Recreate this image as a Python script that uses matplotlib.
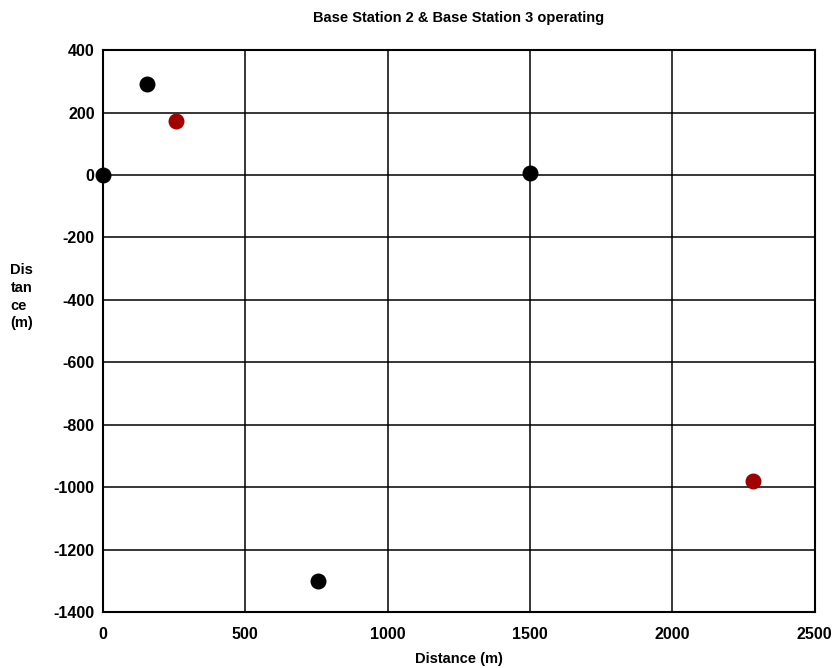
import matplotlib
matplotlib.use('Agg')
import matplotlib.pyplot as plt

plt.rcParams['font.family'] = ['Liberation Sans', 'DejaVu Sans']
plt.rcParams['axes.unicode_minus'] = False

# Station positions (m)
black_x = [0, 155, 1500, 755]
black_y = [0, 290, 5, -1300]
red_x = [258, 2285]
red_y = [173, -980]

xticks = [0, 500, 1000, 1500, 2000, 2500]
yticks = [400, 200, 0, -200, -400, -600, -800, -1000, -1200, -1400]

fig = plt.figure(figsize=(8.39, 6.68), dpi=100)
ax = fig.add_axes([0.1228, 0.0838, 0.848, 0.8412])

ax.scatter(black_x, black_y, s=110, color='black', zorder=3, clip_on=False)
ax.scatter(red_x, red_y, s=110, color='#a00000', zorder=3, clip_on=False)

ax.set_xlim(0, 2500)
ax.set_ylim(-1400, 400)
ax.set_xticks(xticks)
ax.set_yticks(yticks)
ax.grid(True, color='black', linewidth=1.1)
ax.set_axisbelow(True)
for sp in ax.spines.values():
    sp.set_linewidth(1.5)
ax.tick_params(length=0, labelsize=11.5)
ax.tick_params(axis='x', pad=11)
ax.tick_params(axis='y', pad=6)
for lbl in ax.get_xticklabels() + ax.get_yticklabels():
    lbl.set_fontweight('bold')

ax.set_title('Base Station 2 & Base Station 3 operating', fontsize=10.5,
             fontweight='bold', pad=20)
ax.set_xlabel('Distance (m)', fontsize=10.5, fontweight='bold', labelpad=7)
fig.text(0.0125, 0.556, 'Dis\ntan\nce\n(m)', fontsize=10.5, fontweight='bold',
         ha='left', va='center', linespacing=1.35)

fig.savefig('out.png', dpi=100)
